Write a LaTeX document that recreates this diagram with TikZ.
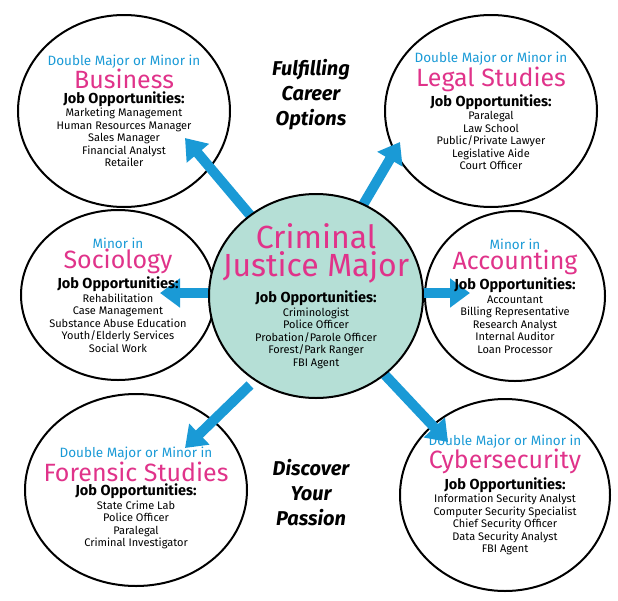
\documentclass[tikz,border=0pt]{standalone}
\usepackage{fontspec}
\setmainfont{Fira Sans}
\usepackage{xcolor}
\usetikzlibrary{shapes.geometric,arrows.meta}
\definecolor{cjblue}{HTML}{1A9AD6}
\definecolor{cjpink}{HTML}{E0338A}
\definecolor{cjteal}{HTML}{B5DFD6}
\tikzset{
  oval/.style={ellipse, draw=black, line width=2pt, inner sep=0pt},
  arr/.style={cjblue, line width=10pt, -{Triangle[length=20pt,width=28pt]}},
  txt/.style={align=center, font=\fontsize{11}{12.5}\selectfont},
}
\newcommand{\minorline}[1]{{\color{cjblue}\fontsize{13.5}{15}\selectfont #1}\\[0pt]}
\newcommand{\fieldname}[1]{{\color{cjpink}\fontsize{25}{26}\selectfont #1}\\[2pt]}
\newcommand{\cjtitle}{\textcolor{cjpink}{\fontsize{32}{34}\selectfont Criminal}\\[2pt]\textcolor{cjpink}{\fontsize{32}{34}\selectfont Justice Major}\\[6pt]}
\newcommand{\jobs}{{\fontsize{14.5}{16}\selectfont\bfseries Job Opportunities:}\\[1pt]}
\begin{document}
\begin{tikzpicture}[x=1pt,y=-1pt]
        \useasboundingbox (0,0) rectangle (618,600);
        %OVALS
        \node[oval, minimum width=212pt, minimum height=192pt] (bus) at (124,111) {};
        \node[oval, minimum width=212pt, minimum height=192pt] (leg) at (491,111) {};
        \node[oval, minimum width=194pt, minimum height=170pt] (soc) at (118,295) {};
        \node[oval, minimum width=180pt, minimum height=170pt] (acc) at (515,296) {};
        \node[oval, minimum width=222pt, minimum height=192pt] (for) at (136,490) {};
        \node[oval, minimum width=210pt, minimum height=192pt] (cyb) at (505,495) {};
        %ARROWS
        \draw[arr] (250,215) -- (185,138);
        \draw[arr] (360,210) -- (400,142);
        \draw[arr] (215,293) -- (160,293);
        \draw[arr] (415,293) -- (470,293);
        \draw[arr] (250,385) -- (185,448);
        \draw[arr] (385,375) -- (448,442);
        \node[oval, fill=cjteal, minimum width=214pt, minimum height=204pt] (cj) at (316,296) {};
        %TEXTS
        \node[txt] (bustxt) at (bus) {\minorline{Double Major or Minor in}\fieldname{Business}\jobs
          Marketing Management\\Human Resources Manager\\Sales Manager\\Financial Analyst\\Retailer};
        \node[txt] (legtxt) at (leg) {\minorline{Double Major or Minor in}\fieldname{Legal Studies}\jobs
          Paralegal\\Law School\\Public/Private Lawyer\\Legislative Aide\\Court Officer};
        \node[txt] (soctxt) at (soc) {\minorline{Minor in}\fieldname{Sociology}\jobs
          Rehabilitation\\Case Management\\Substance Abuse Education\\Youth/Elderly Services\\Social Work};
        \node[txt] (acctxt) at (acc) {\minorline{Minor in}\fieldname{Accounting}\jobs
          Accountant\\Billing Representative\\Research Analyst\\Internal Auditor\\Loan Processor};
        \node[txt] (fortxt) at ([yshift=-8pt]for) {\minorline{Double Major or Minor in}\fieldname{Forensic Studies}\jobs
          State Crime Lab\\Police Officer\\Paralegal\\Criminal Investigator};
        \node[txt] (cybtxt) at (cyb) {\minorline{Double Major or Minor in}\fieldname{Cybersecurity}\jobs
          Information Security Analyst\\Computer Security Specialist\\Chief Security Officer\\Data Security Analyst\\FBI Agent};
        \node[txt] (cjtxt) at (cj) {\cjtitle\jobs
          Criminologist\\Police Officer\\Probation/Parole Officer\\Forest/Park Ranger\\FBI Agent};
        \node[align=center, font=\fontsize{20}{25}\selectfont\bfseries\itshape] (career) at (311,95) {Fulfilling\\Career\\Options};
        \node[align=center, font=\fontsize{20}{25}\selectfont\bfseries\itshape] (passion) at (311,493) {Discover\\Your\\Passion};
\end{tikzpicture}
\end{document}
